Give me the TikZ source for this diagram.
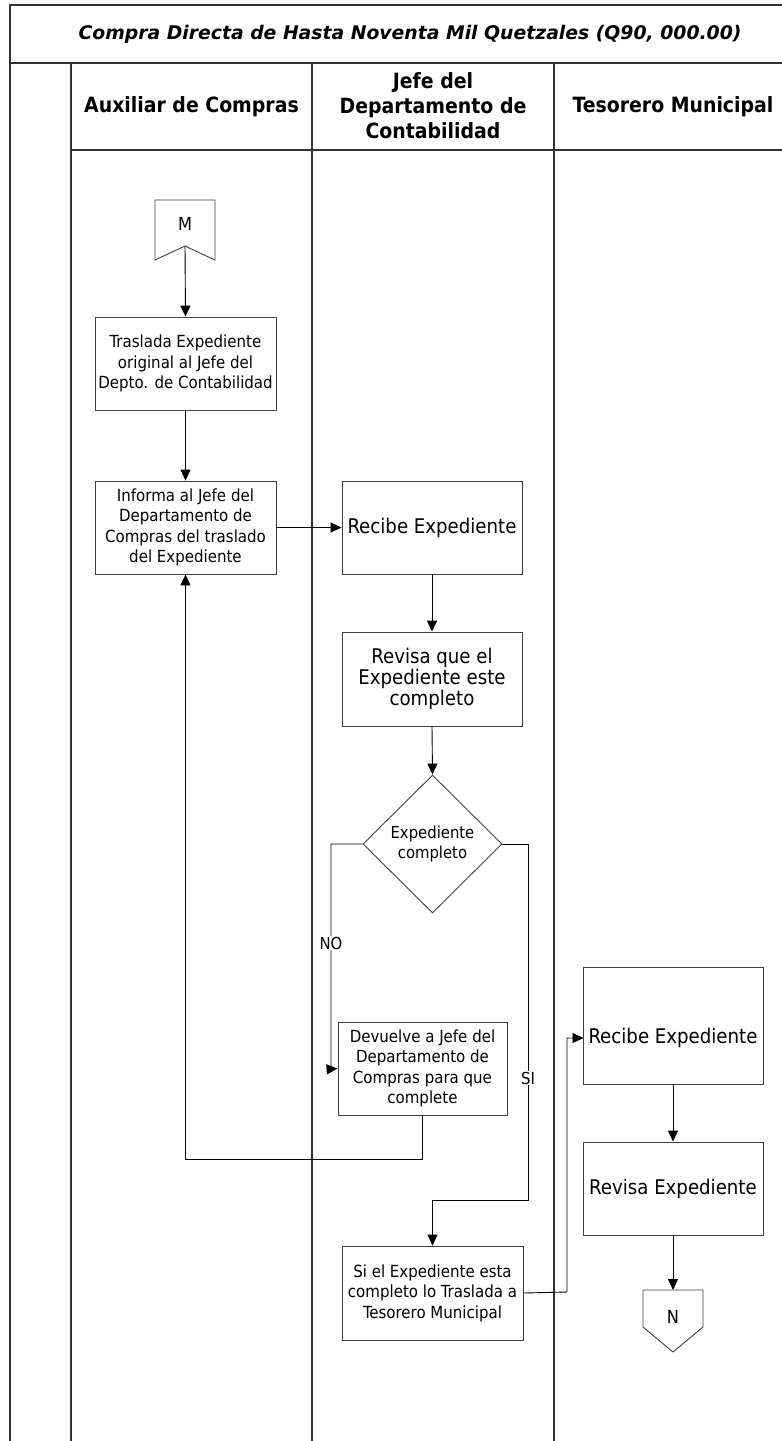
\documentclass[tikz,border=0pt]{standalone}
\usepackage{fontspec}
\setmainfont{DejaVu Sans Condensed}
\newfontfamily\titlefont{DejaVu Sans}
\usetikzlibrary{arrows.meta,shapes.geometric,calc}

\begin{document}
\begin{tikzpicture}[x=1pt,y=-1pt,
  lane/.style={draw=black!80,line width=1.3pt},
  box/.style={draw=black!75,line width=0.9pt,rectangle,align=center,inner sep=2pt,
    minimum width=181pt,minimum height=93pt,font=\fontsize{16.7}{20.5}\selectfont},
  bigbox/.style={box,font=\fontsize{20.2}{21}\selectfont},
  decision/.style={draw=black!75,line width=0.9pt,shape=diamond,minimum width=139pt,
    minimum height=138pt,inner sep=0pt,align=center,font=\fontsize{16.5}{20}\selectfont},
  pageref/.style={draw=black!75,line width=0.9pt},
  flow/.style={draw=black,line width=0.9pt,-{Triangle[length=11pt,width=10pt]}},
  tag/.style={fill=white,inner sep=1pt,font=\fontsize{16.5}{18}\selectfont},
  head/.style={font=\fontsize{21}{25}\selectfont\bfseries,align=center}]

\useasboundingbox (0,0) rectangle (782,1441);
\clip (0,0) rectangle (782,1441);

% swimlane frame
\draw[lane] (10,1441) -- (10,5) -- (800,5);
\draw[lane] (10,63) -- (800,63);
\draw[lane] (71,150) -- (800,150);
\draw[lane] (71,63) -- (71,1441);
\draw[lane] (312,63) -- (312,1441);
\draw[lane] (554,63) -- (554,1441);

% title and lane headings
\node[font=\titlefont\bfseries\itshape\fontsize{18.8}{22}\selectfont] (title) at (410,34)
  {Compra Directa de Hasta Noventa Mil Quetzales (Q90, 000.00)};
\node[head] (hA) at (191.5,107) {Auxiliar de Compras};
\node[head] (hB) at (433,106) {Jefe del\\Departamento de\\Contabilidad};
\node[head] (hC) at (673,107) {Tesorero Municipal};

% off-page connector M
\draw[pageref] (155,200) -- (215,200) -- (215,260) -- (185,246) -- (155,260) -- cycle;
\node[font=\fontsize{18}{18}\selectfont] (M) at (185,224) {M};
\coordinate (Mtip) at (185,246);

% Auxiliar de Compras
\node[box] (b1) at (185.5,363.5) {Traslada Expediente\\original al Jefe del\\Depto. de Contabilidad};
\node[box] (b2) at (185.5,527.5) {Informa al Jefe del\\Departamento de\\Compras del traslado\\del Expediente};

% Jefe del Departamento de Contabilidad
\node[bigbox,minimum width=180pt] (r1) at (432,527.5) {Recibe Expediente};
\node[bigbox,minimum width=180pt,minimum height=94pt] (v1) at (432,679) {Revisa que el\\Expediente este\\completo};
\node[decision] (dec) at (432.5,844) {Expediente\\completo};
\node[box,minimum width=169pt] (dev) at (422.5,1068.5) {Devuelve a Jefe del\\Departamento de\\Compras para que\\complete};
\node[box,minimum height=94pt] (si) at (432.5,1293) {Si el Expediente esta\\completo lo Traslada a\\Tesorero Municipal};

% Tesorero Municipal
\node[bigbox,minimum width=180pt,minimum height=117pt] (r2) at (673,1025.5)
  {\raisebox{-12.5pt}[\height][\depth]{Recibe Expediente}};
\node[bigbox,minimum width=180pt] (v2) at (673,1188.5) {Revisa Expediente};

% off-page connector N
\draw[pageref] (643,1290) -- (703,1290) -- (703,1327) -- (673,1352) -- (643,1327) -- cycle;
\node[font=\fontsize{18}{18}\selectfont] (N) at (673,1317) {N};
\coordinate (Ntop) at (673,1290);

% bends of the connectors
\coordinate (noA) at (331,844);
\coordinate (noB) at (331,1069);
\coordinate (siA) at (528,844);
\coordinate (siB) at (528,1200);
\coordinate (siC) at (432.5,1200);
\coordinate (retA) at (422.5,1159);
\coordinate (retB) at (185.5,1159);
\coordinate (tsA) at (567,1292);
\coordinate (tsB) at (567,1038);
\coordinate (r2in) at (583.5,1038);

% connectors
\draw[flow] (Mtip) -- (b1.north);
\draw[flow] (b1.south) -- (b2.north);
\draw[flow] (b2.east) -- (r1.west);
\draw[flow] (r1.south) -- (v1.north);
\draw[flow] (v1.south) -- (dec.north);
\draw[flow] (dec.west) -- (noA) -- (noB) -- (dev.west);
\draw[flow] (dec.east) -- (siA) -- (siB) -- (siC) -- (si.north);
\draw[flow] (dev.south) -- (retA) -- (retB) -- (b2.south);
\draw[flow] (si.east) -- (tsA) -- (tsB) -- (r2in);
\draw[flow] (r2.south) -- (v2.north);
\draw[flow] (v2.south) -- (Ntop);

% branch labels
\node[tag] (no) at (331,943) {NO};
\node[tag] (yes) at (528,1078) {SI};
\end{tikzpicture}
\end{document}
